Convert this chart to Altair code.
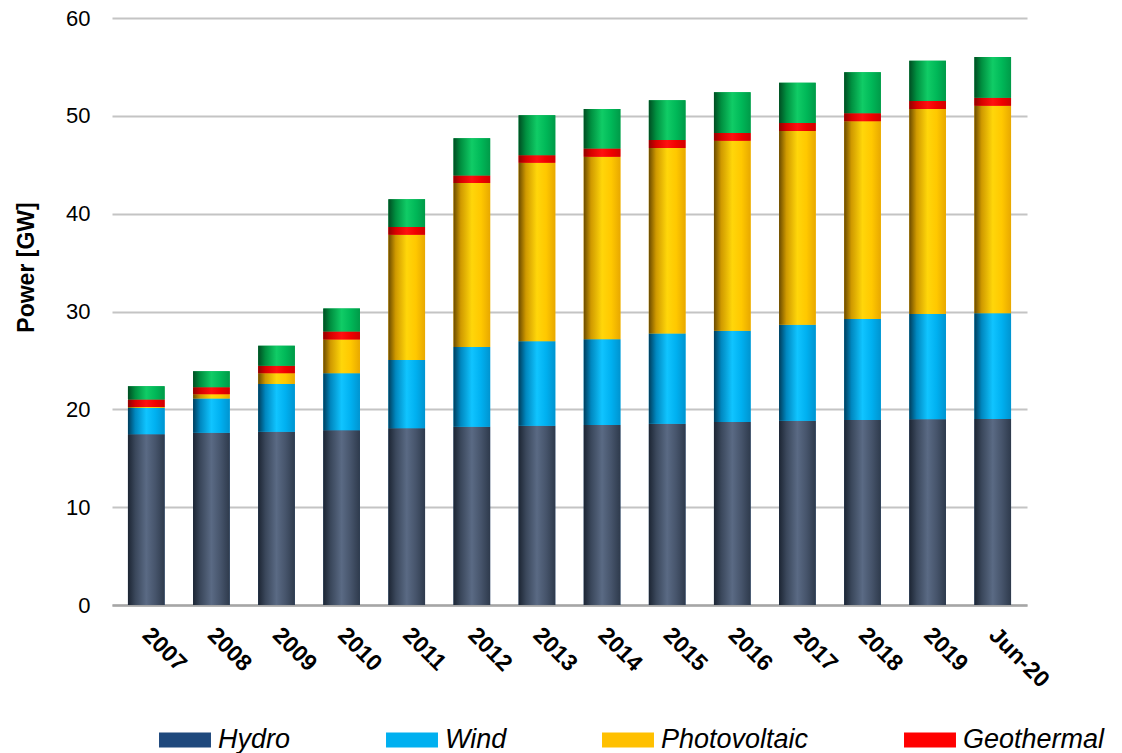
import altair as alt
import pandas as pd

years = ["2007", "2008", "2009", "2010", "2011", "2012", "2013", "2014",
         "2015", "2016", "2017", "2018", "2019", "Jun-20"]
hydro = [17.45, 17.6, 17.7, 17.85, 18.06, 18.23, 18.33, 18.4, 18.53, 18.7, 18.84, 18.91, 18.98, 19.01]
wind = [2.72, 3.5, 4.9, 5.85, 6.98, 8.14, 8.62, 8.76, 9.21, 9.34, 9.81, 10.32, 10.77, 10.81]
pv = [0.08, 0.45, 1.1, 3.45, 12.8, 16.77, 18.25, 18.67, 18.97, 19.42, 19.8, 20.21, 20.95, 21.22]
geo = [0.75, 0.7, 0.75, 0.8, 0.8, 0.75, 0.76, 0.82, 0.82, 0.79, 0.82, 0.82, 0.82, 0.82]
bio = [1.35, 1.65, 2.05, 2.35, 2.83, 3.81, 4.09, 4.05, 4.07, 4.15, 4.12, 4.19, 4.12, 4.16]

series = ["Hydro", "Wind", "Photovoltaic", "Geothermal", "Bioenergy"]
values = [hydro, wind, pv, geo, bio]
flat = ["#1f497d", "#00b0f0", "#ffc000", "#ff0000", "#00b050"]
shades = {
    "Hydro": ["#1c2533", "#3a475b", "#5a6a84", "#46546b", "#2e3a4c"],
    "Wind": ["#003d5c", "#0088c0", "#10c4ff", "#00b0f0", "#0094d0"],
    "Photovoltaic": ["#6a4a00", "#d09a00", "#ffd60a", "#ffc800", "#e8a800"],
    "Geothermal": ["#900000", "#d80000", "#ff1010", "#f00000", "#d00000"],
    "Bioenergy": ["#004d22", "#009040", "#10cc66", "#00b858", "#009a48"],
}

rows = []
for si, (name, vals) in enumerate(zip(series, values)):
    for yr, v in zip(years, vals):
        rows.append({"year": yr, "series": name, "order": si, "value": v})
df = pd.DataFrame(rows)

base = alt.Chart(df).transform_stack(
    stack="value", groupby=["year"], as_=["y0", "y1"],
    sort=[alt.SortField("order", order="ascending")]
)

x_enc = alt.X("year:N", sort=years, title=None,
              scale=alt.Scale(paddingInner=0.437, paddingOuter=0.245),
              axis=alt.Axis(labelAngle=45, labelAlign="left", labelBaseline="middle",
                            labelFont="Liberation Sans", labelFontSize=23,
                            labelFontWeight="bold", labelColor="black",
                            labelPadding=26, ticks=False, domainColor="#a6a6a6",
                            domainWidth=2.5, grid=False))
y_enc = alt.Y("y0:Q", title="Power [GW]",
              scale=alt.Scale(domain=[0, 60], nice=False),
              axis=alt.Axis(values=[0, 10, 20, 30, 40, 50, 60], ticks=False,
                            domain=False, gridColor="#c4c4c4", gridWidth=2.2,
                            labelFont="Liberation Sans", labelFontSize=22,
                            labelColor="black", labelPadding=22,
                            titleFont="Liberation Sans", titleFontSize=23,
                            titleFontWeight="bold", titleColor="black",
                            titleX=-86, titleY=249, titleBaseline="middle"))

legend_layer = base.mark_bar().encode(
    x=x_enc, y=y_enc, y2="y1:Q",
    color=alt.Color("series:N",
                    scale=alt.Scale(domain=series, range=flat),
                    legend=alt.Legend(values=series[:4], orient="none",
                                      legendX=47, legendY=696, direction="horizontal",
                                      columns=4, title=None,
                                      symbolType="M-1,-0.29H1V0.29H-1Z",
                                      symbolSize=2700, symbolStrokeWidth=0,
                                      symbolOpacity=1, labelFont="Liberation Sans",
                                      labelFontSize=27, labelFontStyle="italic",
                                      labelColor="black", labelOffset=7,
                                      columnPadding=95, padding=0,
                                      labelLimit=400)),
)

layers = [legend_layer]
for name in series:
    c = shades[name]
    grad = alt.Gradient(
        gradient="linear", x1=0, x2=1, y1=0, y2=0,
        stops=[alt.GradientStop(color=c[0], offset=0),
               alt.GradientStop(color=c[1], offset=0.2),
               alt.GradientStop(color=c[2], offset=0.5),
               alt.GradientStop(color=c[3], offset=0.75),
               alt.GradientStop(color=c[4], offset=1)])
    layers.append(
        base.transform_filter(alt.datum.series == name)
        .mark_bar(color=grad)
        .encode(x=x_enc, y=y_enc, y2="y1:Q")
    )

chart = alt.layer(*layers).properties(
    width=915, height=587,
    autosize=alt.AutoSizeParams(type="none"),
    padding={"left": 104, "top": 10, "right": 85, "bottom": 150},
).configure_view(stroke=None)

chart.save("out.html", embed_options={"renderer": "svg", "actions": False})
